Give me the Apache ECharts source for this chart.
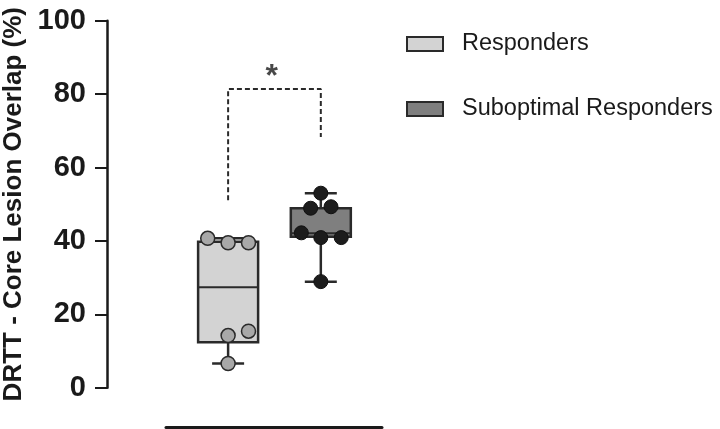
<!DOCTYPE html>
<html>
<head>
<meta charset="utf-8">
<script src="https://cdn.jsdelivr.net/npm/echarts@6/dist/echarts.min.js"></script>
<style>
  html, body { margin: 0; padding: 0; background: #fff; }
  #chart-container { width: 720px; height: 429px; }
</style>
</head>
<body>
<div id="chart-container"></div>
<script>
// group names and x positions
const groups = ['Responders', 'Suboptimal Responders'];
const groupX = [1, 2];

// box stats: [min, Q1, median, Q3, max]
const respondersBox = [6.6, 12.4, 27.4, 39.8, 40.7];
const suboptimalBox = [28.9, 41.1, 42.1, 48.9, 53.0];

// individual points: x offset from group centre, value
const respondersOffsets = [-0.22, 0, 0.22, 0, 0.22, 0];
const respondersValues = [40.7, 39.5, 39.5, 14.2, 15.4, 6.6];
const suboptimalOffsets = [0, -0.11, 0.11, -0.21, 0, 0.22, 0];
const suboptimalValues = [53.0, 48.9, 49.3, 42.2, 40.9, 40.9, 28.9];

// significance bracket
const bracketLeftLow = 51.1;
const bracketRightLow = 68.3;
const bracketTop = 81.4;

const yTicks = [0, 20, 40, 60, 80, 100];

const font = "'Liberation Sans', Arial, sans-serif";

let dom = document.getElementById('chart-container');
let myChart = echarts.init(dom, null, { renderer: 'canvas' });

function boxRenderer(fill) {
  return function (params, api) {
    const x = api.value(0);
    const lo = api.coord([x, api.value(1)]);
    const q1 = api.coord([x, api.value(2)]);
    const med = api.coord([x, api.value(3)]);
    const q3 = api.coord([x, api.value(4)]);
    const hi = api.coord([x, api.value(5)]);
    const cx = lo[0];
    const hw = 30, cw = 16;
    const stroke = { stroke: '#2a2a2a', lineWidth: 2.5 };
    return {
      type: 'group',
      children: [
        { type: 'line', shape: { x1: cx, y1: hi[1], x2: cx, y2: q3[1] }, style: stroke },
        { type: 'line', shape: { x1: cx, y1: q1[1], x2: cx, y2: lo[1] }, style: stroke },
        { type: 'line', shape: { x1: cx - cw, y1: hi[1], x2: cx + cw, y2: hi[1] }, style: stroke },
        { type: 'line', shape: { x1: cx - cw, y1: lo[1], x2: cx + cw, y2: lo[1] }, style: stroke },
        { type: 'rect', shape: { x: cx - hw, y: q3[1], width: hw * 2, height: q1[1] - q3[1] },
          style: { fill: fill, stroke: '#2a2a2a', lineWidth: 2.5 } },
        { type: 'line', shape: { x1: cx - hw, y1: med[1], x2: cx + hw, y2: med[1] }, style: { stroke: '#2a2a2a', lineWidth: 2 } }
      ]
    };
  };
}

const respPoints = respondersValues.map((v, i) => [groupX[0] + respondersOffsets[i], v]);
const subPoints = suboptimalValues.map((v, i) => [groupX[1] + suboptimalOffsets[i], v]);

let option = {
  animation: false,
  backgroundColor: '#fff',
  legend: {
    data: groups,
    orient: 'vertical',
    left: 401,
    top: 27,
    itemGap: 41,
    itemWidth: 36,
    itemHeight: 14,
    icon: 'rect',
    itemStyle: { borderColor: '#2a2a2a', borderWidth: 2 },
    textStyle: { fontFamily: font, fontSize: 23.5, color: '#1a1a1a', padding: [0, 0, 0, 14] }
  },
  grid: { left: 166, right: 338, top: 20.7, bottom: 41.3 },
  xAxis: {
    type: 'value',
    min: 0.33,
    max: 2.66,
    offset: 39.5,
    axisLine: { show: true, onZero: false, lineStyle: { color: '#1a1a1a', width: 3 } },
    axisTick: { show: false },
    axisLabel: { show: false },
    splitLine: { show: false }
  },
  yAxis: {
    type: 'value',
    min: 0,
    max: 100,
    interval: 20,
    offset: 59,
    name: 'DRTT - Core Lesion Overlap (%)',
    nameLocation: 'middle',
    nameRotate: 90,
    nameGap: 80,
    nameTextStyle: { fontFamily: font, fontSize: 26, fontWeight: 'bold', color: '#1a1a1a' },
    axisLine: { show: true, onZero: false, lineStyle: { color: '#1a1a1a', width: 2.5 } },
    axisTick: { show: true, inside: false, length: 12, lineStyle: { color: '#1a1a1a', width: 2 } },
    axisLabel: {
      fontFamily: font, fontSize: 29, fontWeight: 'bold', color: '#1a1a1a', margin: 21,
      formatter: v => (yTicks.indexOf(v) >= 0 ? String(v) : '')
    },
    splitLine: { show: false }
  },
  series: [
    {
      name: groups[0],
      type: 'custom',
      renderItem: boxRenderer('#d3d3d3'),
      itemStyle: { color: '#d3d3d3' },
      data: [[groupX[0]].concat(respondersBox)],
      z: 2
    },
    {
      name: groups[1],
      type: 'custom',
      renderItem: boxRenderer('#7f7f7f'),
      itemStyle: { color: '#7f7f7f' },
      data: [[groupX[1]].concat(suboptimalBox)],
      z: 2
    },
    {
      name: 'resp-points',
      type: 'scatter',
      symbolSize: 14,
      itemStyle: { color: '#a8a8a8', borderColor: '#2a2a2a', borderWidth: 1.5, opacity: 1 },
      data: respPoints,
      z: 3
    },
    {
      name: 'sub-points',
      type: 'scatter',
      symbolSize: 14,
      itemStyle: { color: '#1c1c1c', borderColor: '#111', borderWidth: 1, opacity: 1 },
      data: subPoints,
      z: 3
    },
    {
      name: 'bracket',
      type: 'line',
      showSymbol: false,
      symbol: 'none',
      lineStyle: { color: '#2a2a2a', width: 2, type: [5, 3] },
      data: [[groupX[0], bracketLeftLow], [groupX[0], bracketTop], [groupX[1], bracketTop], [groupX[1], bracketRightLow]],
      z: 1
    },
    {
      name: 'star',
      type: 'scatter',
      symbol: 'circle',
      symbolSize: 1,
      itemStyle: { color: 'rgba(0,0,0,0)' },
      label: {
        show: true, position: 'inside', formatter: '*',
        fontFamily: font, fontSize: 32, fontWeight: 'bold', color: '#1a1a1a'
      },
      data: [[1.47, 84.5]],
      z: 4
    }
  ]
};

myChart.setOption(option);
window.addEventListener('resize', myChart.resize);
</script>
</body>
</html>
